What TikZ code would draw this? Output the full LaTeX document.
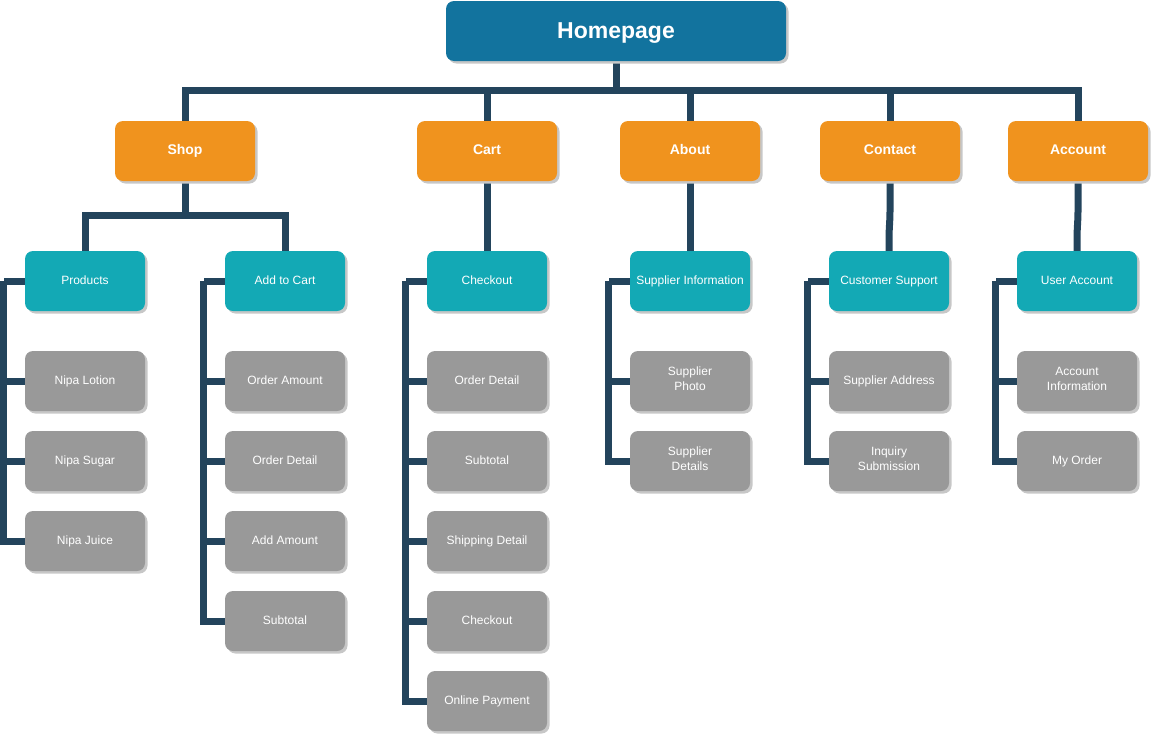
\documentclass[tikz,border=0pt]{standalone}
\usepackage{fontspec}
\setmainfont{Liberation Sans}
\usetikzlibrary{shadows,backgrounds}
\definecolor{homeblue}{HTML}{12739E}
\definecolor{catorange}{HTML}{F0931E}
\definecolor{subteal}{HTML}{13A9B5}
\definecolor{leafgray}{HTML}{999999}
\definecolor{linknavy}{HTML}{23445C}
\begin{document}
\begin{tikzpicture}[x=1pt,y=-1pt,
  box/.style={rounded corners=8pt, inner sep=0pt, align=center, text=white,
    execute at begin node=\strut, execute at end node=\strut,
    drop shadow={shadow xshift=2.5pt, shadow yshift=-2.5pt, fill=black!22, opacity=1}},
  homebox/.style={box, fill=homeblue, minimum width=340pt, minimum height=60pt,
    font=\fontsize{23}{24}\selectfont\bfseries},
  catbox/.style={box, fill=catorange, minimum width=140pt, minimum height=60pt,
    font=\fontsize{14}{16}\selectfont\bfseries},
  subbox/.style={box, fill=subteal, minimum width=120pt, minimum height=60pt,
    font=\fontsize{12}{15}\selectfont},
  leafbox/.style={box, fill=leafgray, minimum width=120pt, minimum height=60pt,
    font=\fontsize{12}{15}\selectfont},
  conn/.style={draw=linknavy, line width=7pt, line join=miter}]
\useasboundingbox (0,0) rectangle (1151,734);

% top
\node[homebox] (home) at (616,31) {\raisebox{-2.5pt}{Homepage}};

% main sections
\node[catbox] (shop)    at (185,151)  {Shop};
\node[catbox] (cart)    at (487,151)  {Cart};
\node[catbox] (about)   at (690,151)  {About};
\node[catbox] (contact) at (890,151)  {Contact};
\node[catbox] (account) at (1078,151) {Account};

% second level
\node[subbox] (products) at (85,281)   {Products};
\node[subbox] (addcart)  at (285,281)  {Add to Cart};
\node[subbox] (checkout) at (487,281)  {Checkout};
\node[subbox] (supinfo)  at (690,281)  {Supplier Information};
\node[subbox] (custsup)  at (889,281)  {Customer Support};
\node[subbox] (useracc)  at (1077,281) {User Account};

% pages under Products
\node[leafbox] (lotion) at (85,381) {Nipa Lotion};
\node[leafbox] (sugar)  at (85,461) {Nipa Sugar};
\node[leafbox] (juice)  at (85,541) {Nipa Juice};

% pages under Add to Cart
\node[leafbox] (ordamt) at (285,381) {Order Amount};
\node[leafbox] (orddet) at (285,461) {Order Detail};
\node[leafbox] (addamt) at (285,541) {Add Amount};
\node[leafbox] (subtot) at (285,621) {Subtotal};

% pages under Checkout
\node[leafbox] (coorddet) at (487,381) {Order Detail};
\node[leafbox] (cosubtot) at (487,461) {Subtotal};
\node[leafbox] (coship)   at (487,541) {Shipping Detail};
\node[leafbox] (cocheck)  at (487,621) {Checkout};
\node[leafbox] (copay)    at (487,701) {Online Payment};

% pages under Supplier Information
\node[leafbox] (supphoto) at (690,381) {Supplier\\Photo};
\node[leafbox] (supdet)   at (690,461) {Supplier\\Details};

% pages under Customer Support
\node[leafbox] (supaddr) at (889,381) {Supplier Address};
\node[leafbox] (inquiry) at (889,461) {Inquiry\\Submission};

% pages under User Account
\node[leafbox] (accinfo) at (1077,381) {Account\\Information};
\node[leafbox] (myorder) at (1077,461) {My Order};

\begin{scope}[on background layer]
  % homepage to sections
  \path (home.south) -- ++(0,29) coordinate (hb);
  \draw[conn] (home.south) -- (hb);
  \foreach \c in {shop,cart,about,contact,account}
    \draw[conn] (hb) -| (\c.north);

  % shop to its two sub pages
  \path (shop.south) -- ++(0,34) coordinate (sb);
  \draw[conn] (shop.south) -- (sb);
  \draw[conn] (sb) -| (products.north);
  \draw[conn] (sb) -| (addcart.north);

  % single sub pages
  \draw[conn] (cart.south) -- (checkout.north);
  \draw[conn] (about.south) -- (supinfo.north);
  \draw[conn] (contact.south) -- ++(0,30)
    .. controls +(0,10) and +(0,-10) .. ([yshift=12pt]custsup.north) -- (custsup.north);
  \draw[conn] (account.south) -- ++(0,30)
    .. controls +(0,10) and +(0,-10) .. ([yshift=12pt]useracc.north) -- (useracc.north);

  % left-hand spines to the leaf pages
  \foreach \p/\kids in {products/{lotion,sugar,juice},
                        addcart/{ordamt,orddet,addamt,subtot},
                        checkout/{coorddet,cosubtot,coship,cocheck,copay},
                        supinfo/{supphoto,supdet},
                        custsup/{supaddr,inquiry},
                        useracc/{accinfo,myorder}} {
    \path (\p.west) -- ++(-21,0) coordinate (spine);
    \draw[conn] (\p.west) -- (spine);
    \foreach \k in \kids
      \draw[conn] (spine) |- (\k.west);
  }
\end{scope}
\end{tikzpicture}
\end{document}
